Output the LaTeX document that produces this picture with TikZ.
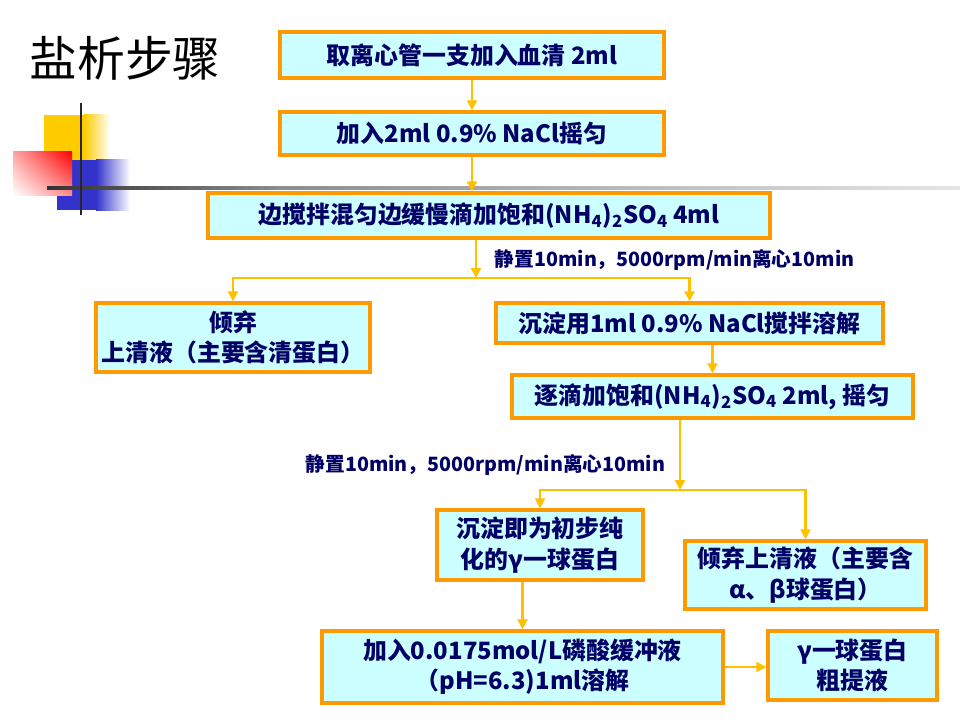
\documentclass[tikz,border=0pt]{standalone}
\usepackage{fontspec}
\setmainfont{Noto Sans CJK SC}
\usetikzlibrary{arrows.meta,shadings}
\usepackage{xcolor}
\definecolor{boxcyan}{RGB}{204,255,255}
\definecolor{boxorange}{RGB}{255,153,0}
\definecolor{inknavy}{RGB}{0,0,102}
\definecolor{flowgold}{RGB}{255,192,0}
\definecolor{decoyellow}{RGB}{255,204,0}
\definecolor{decoblue}{RGB}{51,51,204}
\definecolor{decored}{RGB}{255,0,0}

\begin{document}
\begin{tikzpicture}[
  stepbox/.style={draw=boxorange, line width=2.4pt, fill=boxcyan, text=inknavy,
    font=\fontsize{17}{21.5}\selectfont\bfseries, align=center, inner sep=0pt},
  flowline/.style={flowgold, line width=1.6pt},
  flowarrow/.style={flowline, -{Triangle[length=7pt,width=7pt]}},
  steplabel/.style={text=inknavy, font=\fontsize{14}{16}\selectfont\bfseries}
]
  \useasboundingbox (0,0) rectangle (24,18);

  % ── TITLE ──────────────────────────────────────────────────────────────────
  \node[font=\fontsize{34}{40}\selectfont] (title) at (3.125,16.55) {盐析步骤};

  % ── CORNER SQUARES AND RULES ───────────────────────────────────────────────
  \fill[decoyellow] (1.1,14.0) rectangle (2.1,15.125);
  \shade[left color=decoyellow, right color=white] (2.1,14.0) rectangle (2.75,15.125);

  \fill[decoblue] (1.425,12.75) rectangle (2.4,14.0);
  \shade[left color=decoblue, right color=white] (2.4,12.75) rectangle (3.25,14.0);

  \shade[upper left=decored!35!white, upper right=decored,
         lower left=white, lower right=decored!45!white]
    (0.325,13.125) rectangle (1.8,14.2);

  % horizontal rule, dark to light
  \shade[left color=black!80, right color=black!45] (1.175,13.26) rectangle (7,13.34);
  \shade[left color=black!45, right color=black!10] (7,13.26) rectangle (24,13.34);

  % vertical rule
  \draw[black!85, line width=2pt] (2.025,12.625) -- (2.025,15.425);

  % ── FIRST STAGE ────────────────────────────────────────────────────────────
  \node[stepbox, minimum width=9.6cm, minimum height=1.15cm]
    (serum) at (11.8,16.625) {取离心管一支加入血清 2ml};
  \node[stepbox, minimum width=9.6cm, minimum height=1.075cm]
    (nacl) at (11.8,14.6625) {加入2ml 0.9\% NaCl摇匀};
  \node[stepbox, minimum width=14.05cm, minimum height=1.125cm]
    (ammon) at (12.225,12.6125)
    {边搅拌混匀边缓慢滴加饱和(NH\textsubscript{4})\textsubscript{2}SO\textsubscript{4} 4ml};

  \node[steplabel, anchor=west] (spin1) at (12.25,11.5)
    {静置10min，5000rpm/min离心10min};
  \coordinate (split1) at (11.9,11.05);

  \node[stepbox, minimum width=6.85cm, minimum height=1.725cm]
    (albumin) at (5.825,9.5625) {倾弃\\上清液（主要含清蛋白）};
  \node[stepbox, minimum width=9.675cm, minimum height=1.0cm]
    (dissolve) at (17.2375,9.925) {沉淀用1ml 0.9\% NaCl搅拌溶解};

  % ── SECOND STAGE ───────────────────────────────────────────────────────────
  \node[stepbox, minimum width=10.025cm, minimum height=1.075cm]
    (dropwise) at (17.8125,8.0875)
    {逐滴加饱和(NH\textsubscript{4})\textsubscript{2}SO\textsubscript{4} 2ml, 摇匀};

  \node[steplabel, anchor=east] (spin2) at (16.75,6.375)
    {静置10min，5000rpm/min离心10min};
  \coordinate (split2) at (17.0,5.75);

  \node[stepbox, minimum width=5.15cm, minimum height=1.75cm]
    (precip) at (13.5,4.375) {沉淀即为初步纯\\化的γ一球蛋白};
  \node[stepbox, minimum width=6.025cm, minimum height=1.7cm]
    (globulin) at (20.1375,3.625) {倾弃上清液（主要含\\α、β球蛋白）};

  \node[stepbox, minimum width=10.025cm, minimum height=1.8cm]
    (buffer) at (13.0625,1.325) {加入0.0175mol/L磷酸缓冲液\\（pH=6.3)1ml溶解};
  \node[stepbox, minimum width=4.225cm, minimum height=1.725cm]
    (crude) at (21.3125,1.3625) {γ一球蛋白\\粗提液};

  % ── CONNECTORS ─────────────────────────────────────────────────────────────
  \draw[flowarrow] (serum) -- (nacl);
  \draw[flowarrow] (nacl.south) -- (nacl.south |- ammon.north);
  \draw[flowarrow] (ammon.south -| split1) -- (split1);
  \draw[flowarrow] (split1) -| (albumin.north);
  \draw[flowarrow] (split1) -| (dissolve.north);
  \draw[flowarrow] (dissolve.south -| dropwise.north) -- (dropwise.north);
  \draw[flowarrow] (dropwise.south -| split2) -- (split2);
  \draw[flowarrow] (split2) -| (precip.north);
  \draw[flowarrow] (split2) -| (globulin.north);
  \draw[flowarrow] (precip.south -| buffer.north) -- (buffer.north);
  \draw[flowarrow] (buffer.east) -- (buffer.east -| crude.west);

\end{tikzpicture}
\end{document}
